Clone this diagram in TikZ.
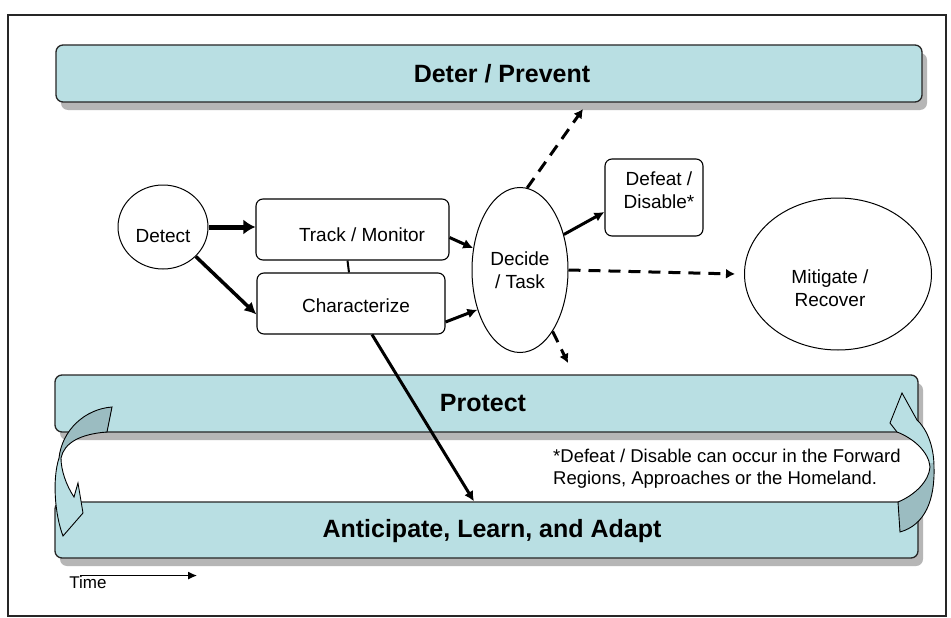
\documentclass[tikz,border=0pt]{standalone}
\usepackage{fontspec}
\setmainfont{Liberation Sans}
\usetikzlibrary{shapes.geometric,arrows.meta,shadows}

\definecolor{barfill}{RGB}{185,223,227}
\definecolor{bardark}{RGB}{155,188,193}
\definecolor{shade}{RGB}{182,182,182}

\begin{document}
\begin{tikzpicture}[x=1pt,y=-1pt,
  bigbar/.style={draw=black!85, line width=1.3pt, fill=barfill, rounded corners=7pt,
    inner sep=0pt, drop shadow={shadow xshift=5pt, shadow yshift=-8pt, fill=shade, opacity=1}},
  roundbox/.style={draw, line width=1.1pt, rounded corners=7pt, inner sep=0pt},
  oval/.style={draw, line width=1pt, ellipse, inner sep=0pt},
  labeltext/.style={inner sep=0pt, font=\fontsize{19}{23}\selectfont},
  titletext/.style={inner sep=0pt, font=\fontsize{25}{28}\selectfont\bfseries},
  notetext/.style={inner sep=0pt, align=left, font=\fontsize{18.5}{22}\selectfont},
  heavyarrow/.style={line width=5pt, -{Latex[length=12pt,width=15pt]}},
  midarrow/.style={line width=3.5pt, -{Latex[length=12pt,width=12pt]}},
  thinarrow/.style={line width=3pt, -{Latex[length=10pt,width=10pt]}},
  dasharrow/.style={line width=3pt, dash pattern=on 12pt off 8pt, -{Latex[length=9pt,width=10pt]}},
  curl/.style={draw=black, line width=0.9pt}]

\useasboundingbox (0,0) rectangle (951,618);
\fill[white] (0,0) rectangle (951,618);
\draw[line width=1.5pt, black!85] (8,15) rectangle (946,616);

% the three horizontal bands
\node[bigbar, minimum width=866pt, minimum height=57pt] (deter) at (489,73.5) {};
\node[titletext] (deterlbl) at (502,74) {Deter / Prevent};
\node[bigbar, minimum width=863pt, minimum height=57pt] (protect) at (486.5,403.5) {};
\node[titletext] (protectlbl) at (483,403) {Protect};
\node[bigbar, minimum width=863pt, minimum height=56pt] (antic) at (486.5,530) {};
\node[titletext] (anticlbl) at (492,531) {Anticipate, Learn, and Adapt};

% footnote between the lower bands
\node[notetext, anchor=north west] (note) at (553,449)
  {*Defeat / Disable can occur in the Forward\\Regions, Approaches or the Homeland.};

% process steps
\node[oval, minimum width=90pt, minimum height=84pt] (detect) at (163,227) {};
\node[labeltext] (detectlbl) at (163,236) {Detect};
\node[roundbox, minimum width=193pt, minimum height=61pt] (track) at (352.5,229.5) {};
\node[labeltext] (tracklbl) at (362,235) {Track / Monitor};
\node[roundbox, minimum width=188pt, minimum height=61pt] (char) at (351,303.5) {};
\node[labeltext] (charlbl) at (356,306) {Characterize};
\node[oval, minimum width=96pt, minimum height=165pt, labeltext, align=center] (decide) at (520,270) {Decide\\/ Task};
\node[roundbox, minimum width=98pt, minimum height=77pt] (defeat) at (654,197.5) {};
\node[labeltext, align=center] (defeatlbl) at (659,190) {Defeat /\\Disable*};
\node[oval, minimum width=187pt, minimum height=152pt] (mitigate) at (838,274) {};
\node[labeltext, align=center] (mitigatelbl) at (830,288) {Mitigate /\\Recover};

% free ends of the open dashed arrows
\coordinate (upend) at (583,109);
\coordinate (downend) at (568,363);

% connectors
\draw[heavyarrow] (detect.east) -- (track.west |- detect.east);
\draw[midarrow] (detect.-42) -- ([yshift=-11pt]char.west);
\draw[line width=2pt] ([xshift=-5pt]track.south) -- ([xshift=-2pt]char.north);
\draw[thinarrow] ([yshift=-8pt]track.east) -- (decide.155);
\draw[thinarrow] ([yshift=-18.5pt]char.east) -- (decide.-137);
\draw[thinarrow] (decide.39) -- ([yshift=-14.5pt]defeat.west);
\draw[dasharrow] (decide.85) -- (upend);
\draw[dasharrow] (decide.east) -- ([xshift=-9pt]mitigate.west);
\draw[dasharrow] (decide.-62) -- (downend);
\draw[thinarrow] ([xshift=21pt]char.south) -- ([xshift=-12.5pt]antic.north);

% curled arrow on the left: Protect down to Anticipate
\fill[barfill] (112,407) .. controls (85,409) and (62,430) .. (59,458)
  .. controls (52,480) and (55,515) .. (63,536) -- (83,513) -- (78,483) -- (74,497)
  .. controls (66,485) and (61,470) .. (61,458) .. controls (64,443) and (80,434) .. (107,432) -- cycle;
\begin{scope}
  \clip (0,0) rectangle (951,459);
  \fill[bardark] (112,407) .. controls (85,409) and (62,430) .. (59,458)
    .. controls (52,480) and (55,515) .. (63,536) -- (83,513) -- (78,483) -- (74,497)
    .. controls (66,485) and (61,470) .. (61,458) .. controls (64,443) and (80,434) .. (107,432) -- cycle;
\end{scope}
\draw[curl] (112,407) .. controls (85,409) and (62,430) .. (59,458)
  .. controls (52,480) and (55,515) .. (63,536) -- (83,513) -- (78,483) -- (74,497)
  .. controls (66,485) and (61,470) .. (61,458) .. controls (64,443) and (80,434) .. (107,432) -- cycle;

% curled arrow on the right: Anticipate up to Protect
\fill[barfill] (900,532) .. controls (925,525) and (935,500) .. (934,467)
  .. controls (934,445) and (926,428) .. (917,420) -- (902,393) -- (890,423) -- (897,432)
  .. controls (913,438) and (929,452) .. (930,467) .. controls (929,481) and (915,495) .. (898,502) -- cycle;
\begin{scope}
  \clip (0,463) rectangle (951,618);
  \fill[bardark] (900,532) .. controls (925,525) and (935,500) .. (934,467)
    .. controls (934,445) and (926,428) .. (917,420) -- (902,393) -- (890,423) -- (897,432)
    .. controls (913,438) and (929,452) .. (930,467) .. controls (929,481) and (915,495) .. (898,502) -- cycle;
\end{scope}
\draw[curl] (900,532) .. controls (925,525) and (935,500) .. (934,467)
  .. controls (934,445) and (926,428) .. (917,420) -- (902,393) -- (890,423) -- (897,432)
  .. controls (913,438) and (929,452) .. (930,467) .. controls (929,481) and (915,495) .. (898,502) -- cycle;

% time axis
\node[inner sep=0pt, font=\fontsize{17}{20}\selectfont] (timelbl) at (88,582) {Time};
\draw[line width=1.6pt, -{Latex[length=9pt,width=8pt]}] ([xshift=11pt]timelbl.north west) -- ++(117,0);

\end{tikzpicture}
\end{document}
